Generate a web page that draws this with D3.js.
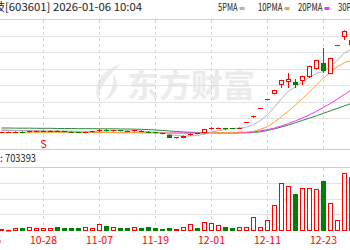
<!DOCTYPE html>
<html>
<head>
<meta charset="utf-8">
<script src="https://cdn.jsdelivr.net/npm/d3@7"></script>
<style>
body{margin:0;background:#fff;overflow:hidden;}
svg{display:block;}
text{font-family:"Noto Sans CJK SC","Noto Sans",sans-serif;}
</style>
</head>
<body>
<script>
//daily candles, index 0 = 10-20
var opens  = [5.18,5.19,5.20,5.25,5.21,5.24,5.25,5.26,5.31,5.27,5.24,5.21,5.18,5.21,5.26,5.36,5.28,5.33,5.30,5.27,
              5.31,5.25,5.20,5.16,5.06,4.86,4.88,5.02,5.14,5.14,5.42,5.42,5.47,5.44,5.44,5.83,6.14,6.66,7.22,7.52,
              8.07,8.25,8.27,8.31,8.55,9.04,9.40,8.74,10.49,10.99,10.49];
var highs  = [5.24,5.25,5.27,5.27,5.30,5.31,5.32,5.33,5.33,5.29,5.26,5.23,5.25,5.29,5.40,5.40,5.36,5.35,5.32,5.36,
              5.33,5.27,5.22,5.18,5.08,4.92,5.02,5.15,5.16,5.42,5.52,5.50,5.48,5.47,5.50,5.83,6.21,6.66,7.22,7.78,
              8.38,8.80,8.43,8.63,9.24,9.60,10.31,9.72,10.49,11.37,10.90];
var lows   = [5.16,5.17,5.18,5.19,5.19,5.22,5.23,5.24,5.24,5.21,5.18,5.16,5.16,5.19,5.24,5.27,5.26,5.27,5.25,5.25,
              5.23,5.18,5.14,5.09,4.86,4.83,4.86,5.00,5.08,5.12,5.38,5.40,5.35,5.40,5.42,5.83,6.08,6.66,7.22,7.50,
              7.89,7.89,7.89,8.07,8.50,9.00,8.80,8.72,10.49,10.79,10.45];
var closes = [5.22,5.23,5.24,5.21,5.27,5.28,5.29,5.30,5.26,5.23,5.20,5.18,5.22,5.26,5.36,5.29,5.33,5.29,5.27,5.33,
              5.25,5.20,5.16,5.11,4.88,4.90,5.00,5.12,5.10,5.40,5.46,5.49,5.44,5.42,5.48,5.83,6.20,6.66,7.22,7.77,
              8.37,8.43,8.07,8.61,9.22,9.58,8.92,9.70,10.49,11.35,10.79];
var volumes = [50000,30000,68000,68000,94000,68000,68000,68000,94000,68000,68000,68000,94000,68000,178000,135000,94000,68000,68000,109000,
               68000,94000,68000,51000,68000,51000,102000,178000,68000,221000,211000,152000,94000,68000,109000,94000,363000,94000,272000,660000,
               1212000,1143000,932000,1085000,1085000,1059000,1270000,719000,279000,1466000,1372000];

//moving averages as drawn
var ma5  = [5.34,5.33,5.32,5.31,5.30,5.30,5.29,5.29,5.30,5.29,5.28,5.27,5.26,5.26,5.28,5.30,5.31,5.31,5.30,5.30,
            5.28,5.25,5.21,5.16,5.08,5.02,4.98,4.99,5.02,5.10,5.22,5.31,5.38,5.44,5.46,5.53,5.67,5.92,6.28,6.74,
            7.24,7.69,7.97,8.25,8.54,8.78,8.88,9.21,9.58,10.01,10.25];
var ma10 = [5.20,5.20,5.19,5.19,5.19,5.19,5.19,5.20,5.20,5.20,5.20,5.20,5.20,5.19,5.19,5.20,5.20,5.20,5.20,5.20,
            5.19,5.19,5.18,5.17,5.16,5.15,5.14,5.14,5.15,5.16,5.18,5.19,5.20,5.21,5.22,5.23,5.27,5.40,5.55,5.83,
            6.15,6.50,6.86,7.25,7.65,8.08,8.49,8.84,9.18,9.42,9.58];
var ma20 = [5.34,5.33,5.32,5.31,5.30,5.29,5.28,5.27,5.26,5.25,5.24,5.23,5.22,5.21,5.20,5.20,5.19,5.19,5.19,5.19,
            5.18,5.18,5.18,5.18,5.17,5.17,5.17,5.17,5.17,5.17,5.17,5.17,5.17,5.18,5.19,5.20,5.23,5.30,5.37,5.47,
            5.60,5.74,5.90,6.08,6.27,6.48,6.72,6.96,7.22,7.50,7.80];
var ma30 = [5.47,5.47,5.46,5.46,5.46,5.45,5.45,5.45,5.44,5.44,5.44,5.43,5.43,5.43,5.42,5.42,5.42,5.41,5.41,5.40,
            5.39,5.37,5.35,5.32,5.29,5.26,5.23,5.21,5.20,5.19,5.19,5.18,5.18,5.17,5.17,5.18,5.20,5.24,5.32,5.42,
            5.53,5.65,5.79,5.93,6.07,6.21,6.36,6.51,6.66,6.81,6.96];

var tickIdx    = [-2, 6, 14, 22, 30, 38, 46];
var tickLabels = ["10-16","10-28","11-07","11-19","12-01","12-11","12-23"];
var priceGrid  = [6, 7, 8, 9, 10, 11];
var volGrid    = [400000, 800000, 1200000];
var maNames    = ["5PMA","10PMA","20PMA","30PMA"];
var maColors   = ["#b4b4b4","#f7a533","#ff2bff","#2b8a3e"];

window.onload = drawChart();

function drawChart(){
    var width = 350, height = 250;
    var red = "#ff0000", green = "#008000";

    var svg = d3.select("body").append("svg")
        .attr("width", width)
        .attr("height", height);

    //scales
    var x = d3.scaleLinear().domain([0, 1]).range([1.5, 8.5]);
    var y = d3.scaleLinear().domain([4.2, 12]).range([149, 20]);
    var yv = d3.scaleLinear().domain([0, 1600000]).range([231, 168]);
    var px = function(v){ return Math.round(v) - 0.5; };

    //watermark
    var wm = svg.append("g").attr("fill", "#ebebeb");
    wm.append("path")
        .attr("d", "M121,64 C104,69 92,82 98,101 C99,88 106,78 121,64 Z M113,74 C121,84 117,95 104,101 C112,93 114,84 113,74 Z");
    wm.append("text")
        .attr("x", 127).attr("y", 97)
        .attr("font-size", 32).attr("font-weight", "bold")
        .text("东方财富");

    //frame lines
    svg.append("line").attr("x1", 0).attr("x2", width).attr("y1", 19.5).attr("y2", 19.5).attr("stroke", "#cfcfcf");
    svg.append("line").attr("x1", 0).attr("x2", width).attr("y1", 149.5).attr("y2", 149.5).attr("stroke", "#cfcfcf");
    svg.append("line").attr("x1", 0).attr("x2", width).attr("y1", 167.5).attr("y2", 167.5).attr("stroke", "#cfcfcf");

    //horizontal grid
    svg.selectAll(".pgrid").data(priceGrid).enter().append("line")
        .attr("class", "pgrid")
        .attr("x1", 0).attr("x2", width)
        .attr("y1", function(d){ return px(y(d)); })
        .attr("y2", function(d){ return px(y(d)); })
        .attr("stroke", "#e2e2e2");
    svg.selectAll(".vgrid").data(volGrid).enter().append("line")
        .attr("class", "vgrid")
        .attr("x1", 0).attr("x2", width)
        .attr("y1", function(d){ return px(yv(d)); })
        .attr("y2", function(d){ return px(yv(d)); })
        .attr("stroke", "#e2e2e2");

    //dashed date lines in both panes
    [[20, 149], [168, 231]].forEach(function(r){
        svg.selectAll(null).data(tickIdx).enter().append("line")
            .attr("x1", function(d){ return x(d); })
            .attr("x2", function(d){ return x(d); })
            .attr("y1", r[0]).attr("y2", r[1])
            .attr("stroke", "#d4d4d4")
            .attr("stroke-dasharray", "3,3");
    });

    //moving average lines
    var line = d3.line()
        .x(function(d, i){ return x(i); })
        .y(function(d){ return y(d); });
    [ma30, ma20, ma10, ma5].forEach(function(s, k){
        svg.append("path")
            .datum(s)
            .attr("d", line)
            .attr("fill", "none")
            .attr("stroke", maColors[3 - k])
            .attr("stroke-width", 1);
    });

    //candles
    var candles = svg.append("g").attr("class", "candles");
    closes.forEach(function(c, i){
        var o = opens[i], up = c >= o, col = up ? red : green, cx = x(i);
        candles.append("line")
            .attr("x1", cx).attr("x2", cx)
            .attr("y1", y(highs[i])).attr("y2", y(lows[i]))
            .attr("stroke", col);
        var top = Math.round(y(Math.max(o, c))), bot = Math.round(y(Math.min(o, c)));
        if (bot - top < 2){
            candles.append("line")
                .attr("x1", cx - 2.5).attr("x2", cx + 2.5)
                .attr("y1", top + 0.5).attr("y2", top + 0.5)
                .attr("stroke", col);
        } else if (up){
            candles.append("rect")
                .attr("x", cx - 2).attr("y", top + 0.5)
                .attr("width", 4).attr("height", bot - top - 1)
                .attr("fill", "#fff").attr("stroke", red);
        } else {
            candles.append("rect")
                .attr("x", cx - 2.5).attr("y", top)
                .attr("width", 5).attr("height", bot - top)
                .attr("fill", green);
        }
    });

    //volume bars
    var bars = svg.append("g").attr("class", "volume");
    volumes.forEach(function(v, i){
        var up = closes[i] >= opens[i], cx = x(i), top = Math.round(yv(v));
        if (up){
            bars.append("rect")
                .attr("x", cx - 2).attr("y", top + 0.5)
                .attr("width", 4).attr("height", Math.max(231 - top - 1, 0.5))
                .attr("fill", "#fff").attr("stroke", red);
        } else {
            bars.append("rect")
                .attr("x", cx - 2.5).attr("y", top)
                .attr("width", 5).attr("height", 231 - top)
                .attr("fill", green);
        }
    });

    //signal mark
    svg.append("text")
        .attr("x", x(6)).attr("y", 148)
        .attr("text-anchor", "middle")
        .attr("font-size", 11)
        .attr("fill", red)
        .text("S");

    //date labels
    svg.selectAll(".date").data(tickIdx).enter().append("text")
        .attr("class", "date")
        .attr("x", function(d){ return x(d); })
        .attr("y", 244)
        .attr("text-anchor", "middle")
        .attr("font-size", 10.5)
        .attr("fill", red)
        .text(function(d, i){ return tickLabels[i]; });

    //header
    svg.append("text").attr("x", 5).attr("y", 11).attr("text-anchor", "end")
        .attr("font-size", 11).attr("fill", "#222").text("再升科技");
    svg.append("text").attr("x", 5).attr("y", 11)
        .attr("font-size", 11).attr("fill", "#222")
        .attr("textLength", 137).attr("lengthAdjust", "spacingAndGlyphs")
        .text("[603601] 2026-01-06 10:04");

    //legend, one slot every 40px
    maNames.forEach(function(n, k){
        var lx = 218 + k * 40;
        var tw = n.length * 4.9;
        svg.append("text").attr("x", lx).attr("y", 11)
            .attr("font-size", 10.5).attr("fill", "#222")
            .attr("textLength", tw).attr("lengthAdjust", "spacingAndGlyphs")
            .text(n);
        svg.append("rect").attr("x", lx + tw + 2).attr("y", 7)
            .attr("width", 5).attr("height", 3)
            .attr("fill", maColors[k]);
    });

    //volume label
    svg.append("text").attr("x", 3).attr("y", 162).attr("text-anchor", "end")
        .attr("font-size", 10.5).attr("fill", "#222").text("成交量:");
    svg.append("text").attr("x", 5).attr("y", 162)
        .attr("font-size", 10.5).attr("fill", "#222")
        .attr("textLength", 31).attr("lengthAdjust", "spacingAndGlyphs")
        .text("703393");
}
</script>
</body>
</html>
